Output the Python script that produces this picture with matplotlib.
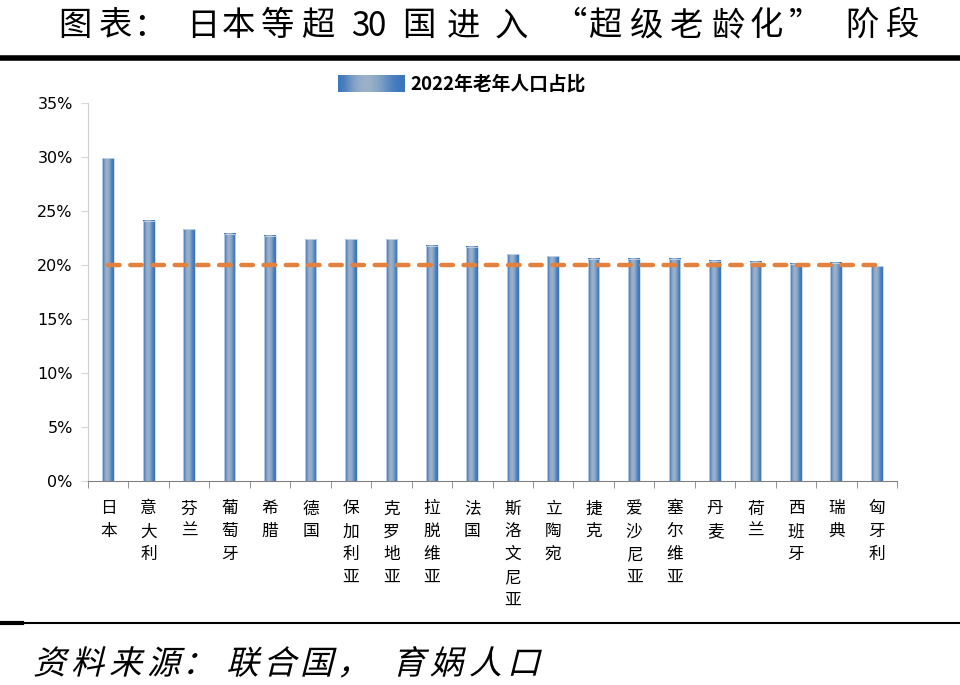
import matplotlib.pyplot as plt
import numpy as np
from matplotlib.colors import LinearSegmentedColormap
from matplotlib.textpath import TextPath
from matplotlib.patches import PathPatch
from matplotlib.font_manager import FontProperties
from matplotlib.transforms import Affine2D

plt.rcParams['font.family'] = ['Noto Sans CJK SC', 'DejaVu Sans']

# data
countries = ['日本', '意大利', '芬兰', '葡萄牙', '希腊', '德国', '保加利亚', '克罗地亚', '拉脱维亚', '法国',
             '斯洛文尼亚', '立陶宛', '捷克', '爱沙尼亚', '塞尔维亚', '丹麦', '荷兰', '西班牙', '瑞典', '匈牙利']
share = [29.9, 24.1, 23.3, 22.9, 22.7, 22.4, 22.4, 22.4, 21.8, 21.7,
         21.0, 20.8, 20.6, 20.6, 20.6, 20.4, 20.3, 20.1, 20.2, 19.9]
threshold = 20.0

title_chars = list('图表：日本等超30国进入“超级老龄化”阶段')
title_x = [75, 116, 150, 203, 238, 278, 318, 360, 377, 419, 463, 511, 570,
           605, 647, 687, 728, 766, 805, 862, 903]
source_chars = list('资料来源：联合国，育娲人口')
source_x = [33, 71, 109, 147, 182, 226, 263, 300, 337, 392, 430, 469, 507]

fig = plt.figure(figsize=(9.6, 6.85), dpi=100)
ax = fig.add_axes([88 / 960, 1 - 481 / 685, 809 / 960, 378 / 685])

x = np.arange(len(countries))
w = 0.29
# horizontal gradient: light in the middle, darker blue at the edges
grad = np.array([[0.0, 0.5, 0.8, 0.9, 0.75, 0.5, 0.15, 0.0]])
cmap = LinearSegmentedColormap.from_list('barg', ['#3A76BD', '#A0B4C9'])
for xi, v in zip(x, share):
    ax.imshow(grad, cmap=cmap, aspect='auto', extent=[xi - w / 2, xi + w / 2, 0, v],
              interpolation='bicubic', zorder=2)
    ax.bar(xi, v, width=w, facecolor='none', edgecolor='#C9D8EA', linewidth=0.6, zorder=3)

ax.plot(x, [threshold] * len(x), color='#E3823E', linewidth=3.2, linestyle=(0, (2.6, 2.4)),
        dash_capstyle='round', zorder=4)

ax.set_xlim(-0.5, len(x) - 0.5)
ax.set_ylim(0, 35)
ax.set_yticks(range(0, 36, 5))
ax.set_yticklabels([f'{t}%' for t in range(0, 36, 5)], fontsize=11.5, family='DejaVu Sans')
ax.set_xticks(x)
ax.set_xticklabels(['\n'.join(c) for c in countries], fontsize=12, linespacing=1.45, va='top')
ax.set_xticks(np.arange(-0.5, len(x), 1), minor=True)
ax.tick_params(axis='x', which='major', length=0, pad=14)
ax.tick_params(axis='x', which='minor', length=5, color='#808080', direction='out')
ax.tick_params(axis='y', length=5, color='#D8D8D8', pad=6)
for s in ['top', 'right']:
    ax.spines[s].set_visible(False)
ax.spines['left'].set_color('#D0D0D0')
ax.spines['bottom'].set_color('#808080')

# legend
lax = fig.add_axes([338 / 960, 1 - 92 / 685, 67 / 960, 17 / 685])
lax.imshow(grad, cmap=cmap, aspect='auto', interpolation='bicubic')
lax.axis('off')
fig.text(410 / 960, 1 - 84 / 685, '2022年老年人口占比', fontsize=13.5, fontweight='bold', va='center')

# title, spaced out one glyph at a time
for ch, cx in zip(title_chars, title_x):
    fig.text(cx / 960, 1 - 26 / 685, ch, fontsize=24, ha='center', va='center', fontweight='light')

fig.add_artist(plt.Line2D([0, 1], [1 - 58 / 685] * 2, color='black', linewidth=4))
fig.add_artist(plt.Line2D([0, 1], [1 - 623 / 685] * 2, color='black', linewidth=1.5))
fig.add_artist(plt.Line2D([0, 22 / 960], [1 - 623 / 685] * 2, color='black', linewidth=3))

# source line, slanted like italic (CJK font has no italic face)
fp = FontProperties(family='Noto Sans CJK SC', weight='light')
for ch, lx in zip(source_chars, source_x):
    p = TextPath((0, 0), ch, size=33, prop=fp)
    tr = Affine2D().skew_deg(14, 0).translate(lx, 685 - 674)
    fig.add_artist(PathPatch(p, transform=tr, facecolor='black', edgecolor='none'))

fig.savefig('out.png', dpi=100)
